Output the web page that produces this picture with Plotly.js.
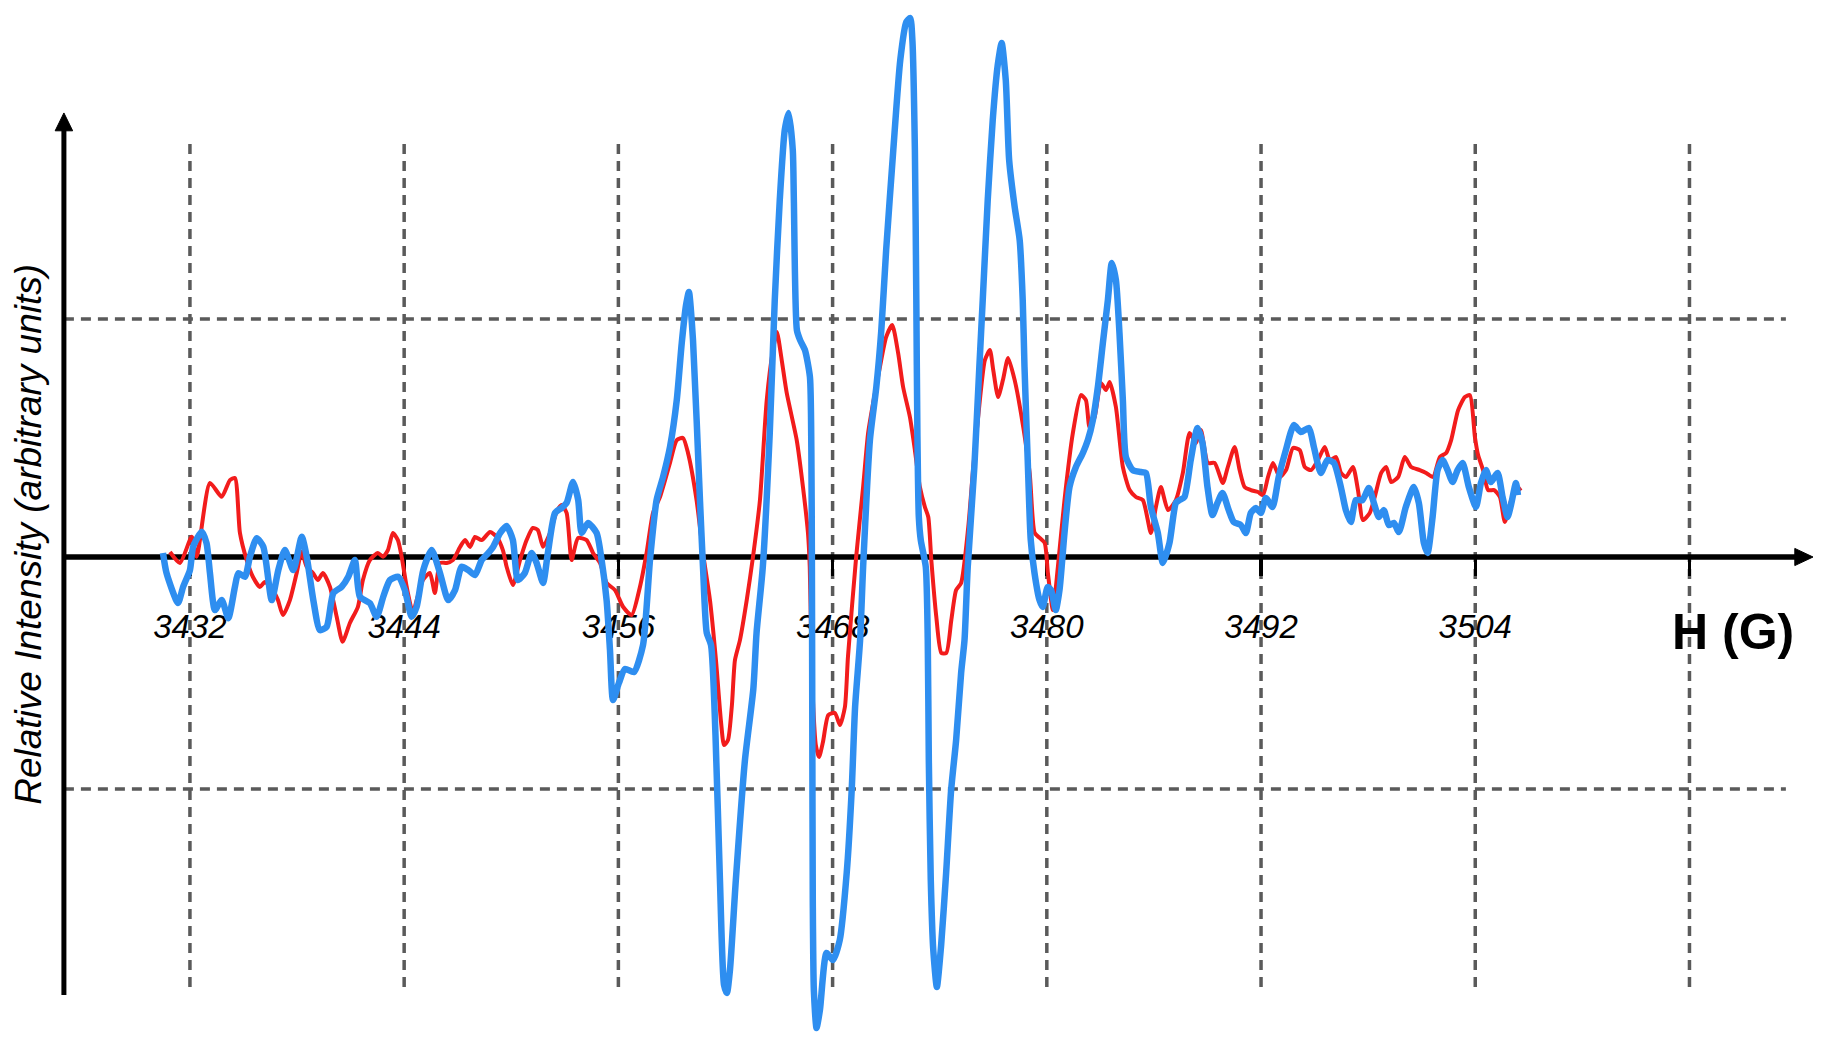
<!DOCTYPE html>
<html>
<head>
<meta charset="utf-8">
<script src="https://cdn.plot.ly/plotly-3.0.1.min.js"></script>
<style>
  html, body { margin: 0; padding: 0; background: #fff; }
  #chart { width: 1833px; height: 1044px; }
</style>
</head>
<body>
<div id="chart"></div>
<script>
// поле H (G) для красного спектра
const redField = [
  3430.88, 3431.44, 3432.10, 3432.38, 3433.12, 3433.78, 3434.24, 3434.52, 3434.80, 3435.18,
  3435.53, 3435.92, 3436.20, 3436.65, 3436.93, 3437.21, 3437.60, 3437.98, 3438.26, 3438.54,
  3438.89, 3439.17, 3439.45, 3439.84, 3440.22, 3440.55, 3440.96, 3441.41, 3441.69, 3442.08,
  3442.53, 3442.81, 3443.09, 3443.37, 3443.65, 3443.86, 3444.14, 3444.49, 3444.70, 3445.05,
  3445.44, 3445.72, 3446.01, 3446.38, 3446.73, 3447.13, 3447.41, 3447.69, 3447.97, 3448.34,
  3448.81, 3449.18, 3449.53, 3449.74, 3450.09, 3450.49, 3450.86, 3451.21, 3451.49, 3451.78,
  3452.17, 3452.54, 3452.82, 3453.10, 3453.38, 3453.74, 3454.22, 3454.58, 3454.97, 3455.34,
  3455.81, 3456.26, 3456.74, 3457.21, 3457.58, 3457.94, 3458.33, 3458.89, 3459.27, 3459.62,
  3459.90, 3460.38, 3460.74, 3461.13, 3461.47, 3461.75, 3461.92, 3462.14, 3462.36, 3462.53,
  3462.81, 3463.19, 3463.54, 3463.93, 3464.31, 3464.66, 3464.88, 3465.15, 3465.43, 3465.99,
  3466.34, 3466.62, 3466.72, 3466.80, 3466.90, 3467.06, 3467.24, 3467.46, 3467.76, 3468.13,
  3468.41, 3468.69, 3468.86, 3469.32, 3469.71, 3469.99, 3470.27, 3470.65, 3471.00, 3471.34,
  3471.67, 3471.95, 3472.33, 3472.61, 3472.89, 3473.17, 3473.36, 3473.53, 3473.81, 3474.09,
  3474.37, 3474.65, 3474.92, 3475.20, 3475.60, 3475.88, 3476.25, 3476.53, 3476.81, 3477.00,
  3477.27, 3477.54, 3477.83, 3478.20, 3478.55, 3479.04, 3479.32, 3479.60, 3479.88, 3480.06,
  3480.34, 3480.62, 3480.99, 3481.46, 3481.91, 3482.19, 3482.39, 3482.68, 3483.03, 3483.31,
  3483.52, 3483.87, 3484.26, 3484.64, 3484.99, 3485.38, 3485.83, 3486.11, 3486.39, 3486.79,
  3487.23, 3487.62, 3488.00, 3488.35, 3488.63, 3489.02, 3489.40, 3489.86, 3490.14, 3490.52,
  3490.80, 3491.08, 3491.43, 3491.83, 3492.11, 3492.39, 3492.67, 3493.04, 3493.40, 3493.79,
  3494.17, 3494.45, 3494.80, 3495.19, 3495.57, 3495.85, 3496.20, 3496.48, 3496.76, 3497.15,
  3497.43, 3497.71, 3498.09, 3498.37, 3498.73, 3499.01, 3499.29, 3499.68, 3500.05, 3500.41,
  3500.89, 3501.25, 3501.64, 3502.02, 3502.37, 3502.65, 3503.04, 3503.42, 3503.70, 3503.98,
  3504.16, 3504.44, 3504.72, 3505.06, 3505.38, 3505.66, 3506.01, 3506.24, 3506.57
];
// интенсивность красного спектра (условные единицы)
const redIntensity = [
  2.1, -2.5, 8.5, 0.1, 31.1, 25.3, 32.3, 33.2, 10.1, -1.3,
  -8.4, -12.6, -10.5, -13.9, -18.1, -24.4, -18.1, -6.7, 2.2, -4.1,
  -6.7, -9.7, -6.7, -12.5, -25.1, -35.6, -27.7, -20.9, -9.7, -1.3,
  1.7, 0.1, 2.9, 10.1, 7.1, 0.1, -12.5, -23.5, -18.1, -9.7,
  -6.7, -15.1, -2.5, -2.5, -1.3, 4.2, 7.1, 4.2, 8.4, 7.1,
  10.5, 8.5, 2.9, -4.1, -11.8, -1.3, 7.1, 12.2, 11.3, 4.3,
  10.1, 19.0, 21.8, 18.5, -1.3, 8.0, 7.1, 1.7, -2.5, -10.9,
  -13.9, -20.9, -24.4, -12.5, 1.7, 18.5, 25.2, 39.5, 49.1, 50.0,
  43.7, 23.9, 1.7, -18.1, -43.7, -69.3, -79.0, -76.9, -62.2, -43.3,
  -34.9, -18.1, 0, 23.9, 65.9, 86.9, 94.5, 82.7, 68.9, 49.1,
  29.4, 10.1, -4.2, -34.9, -60.1, -79.0, -84.0, -77.7, -66.4, -65.5,
  -70.6, -63.0, -42.0, 0, 29.4, 52.1, 64.7, 79.8, 92.4, 97.4,
  85.7, 71.4, 58.8, 44.9, 29.4, 21.0, 16.8, -1.3, -25.2, -40.3,
  -40.3, -26.5, -13.9, -10.9, 12.6, 37.8, 65.9, 82.7, 86.9, 78.5,
  67.2, 74.3, 83.6, 74.3, 60.5, 35.3, 10.1, 8.0, 5.9, -6.7,
  -22.3, -4.2, 23.9, 52.1, 68.0, 65.9, 54.6, 58.8, 73.1, 70.1,
  73.5, 63.0, 37.8, 28.1, 25.2, 23.9, 10.1, 21.0, 29.4, 19.7,
  23.9, 35.3, 52.1, 47.9, 53.3, 39.5, 39.5, 31.1, 37.8, 46.2,
  36.5, 29.4, 28.1, 27.3, 26.0, 33.6, 39.5, 33.6, 36.5, 45.8,
  44.9, 37.8, 36.5, 40.7, 46.2, 40.7, 42.0, 35.3, 33.6, 37.8,
  28.1, 15.5, 18.5, 25.2, 35.3, 37.8, 31.5, 33.6, 42.0, 37.8,
  36.5, 35.3, 33.6, 42.0, 43.7, 49.1, 61.7, 67.2, 68.0, 50.4,
  42.8, 36.5, 28.1, 28.1, 25.2, 14.7, 23.9, 26.9, 29.0
];
// поле H (G) для синего спектра
const blueField = [
  3430.49, 3430.69, 3431.33, 3431.62, 3432.00, 3432.18, 3432.66, 3432.93, 3433.12, 3433.40,
  3433.78, 3434.15, 3434.52, 3434.71, 3435.08, 3435.36, 3435.74, 3436.11, 3436.58, 3436.95,
  3437.32, 3437.79, 3438.26, 3438.54, 3438.91, 3439.28, 3439.66, 3440.03, 3440.50, 3440.87,
  3441.24, 3441.52, 3442.08, 3442.46, 3442.83, 3443.20, 3443.67, 3444.04, 3444.42, 3444.70,
  3445.07, 3445.54, 3446.01, 3446.47, 3446.85, 3447.22, 3447.59, 3447.97, 3448.34, 3448.71,
  3448.99, 3449.37, 3449.74, 3450.09, 3450.37, 3450.76, 3451.14, 3451.42, 3451.78, 3452.05,
  3452.45, 3452.82, 3453.10, 3453.46, 3453.75, 3453.94, 3454.30, 3454.78, 3455.06, 3455.34,
  3455.53, 3455.70, 3456.03, 3456.37, 3456.87, 3457.38, 3457.77, 3458.14, 3458.50, 3458.89,
  3459.27, 3459.55, 3459.79, 3459.95, 3460.18, 3460.57, 3460.74, 3460.95, 3461.19, 3461.44,
  3461.69, 3461.92, 3462.08, 3462.25, 3462.58, 3463.09, 3463.56, 3463.74, 3464.09, 3464.48,
  3464.76, 3465.04, 3465.32, 3465.54, 3465.77, 3465.83, 3466.00, 3466.18, 3466.45, 3466.73,
  3466.81, 3466.84, 3466.86, 3466.89, 3466.95, 3467.10, 3467.29, 3467.66, 3468.01, 3468.40,
  3468.79, 3469.07, 3469.26, 3469.54, 3469.71, 3470.09, 3470.45, 3470.73, 3471.00, 3471.40,
  3471.79, 3472.13, 3472.35, 3472.47, 3472.61, 3472.69, 3472.75, 3472.83, 3472.94, 3473.22,
  3473.33, 3473.39, 3473.50, 3473.64, 3473.84, 3474.08, 3474.36, 3474.64, 3474.92, 3475.20,
  3475.39, 3475.57, 3475.94, 3476.22, 3476.41, 3476.69, 3476.97, 3477.25, 3477.47, 3477.70,
  3477.89, 3478.20, 3478.48, 3478.65, 3478.75, 3478.93, 3479.10, 3479.31, 3479.59, 3479.77,
  3480.05, 3480.24, 3480.50, 3480.71, 3480.99, 3481.27, 3481.63, 3482.02, 3482.30, 3482.58,
  3482.86, 3483.14, 3483.42, 3483.64, 3483.87, 3484.07, 3484.26, 3484.43, 3484.82, 3485.27,
  3485.55, 3485.83, 3486.22, 3486.50, 3486.87, 3487.23, 3487.43, 3487.71, 3488.06, 3488.44,
  3488.72, 3489.00, 3489.28, 3489.56, 3489.84, 3490.19, 3490.47, 3490.87, 3491.15, 3491.43,
  3491.71, 3491.99, 3492.27, 3492.64, 3492.99, 3493.39, 3493.84, 3494.23, 3494.68, 3494.96,
  3495.35, 3495.72, 3496.08, 3496.47, 3496.75, 3497.03, 3497.31, 3497.68, 3498.04, 3498.32,
  3498.60, 3498.88, 3499.16, 3499.44, 3499.72, 3500.11, 3500.56, 3500.84, 3501.12, 3501.33,
  3501.61, 3501.89, 3502.17, 3502.45, 3502.73, 3503.01, 3503.29, 3503.64, 3504.04, 3504.32,
  3504.60, 3504.87, 3505.25, 3505.53, 3505.81, 3506.00, 3506.28, 3506.39
];
// интенсивность синего спектра (условные единицы)
const blueIntensity = [
  1.7, -6.8, -19.3, -12.5, -5.5, 4.3, 10.6, 5.8, -6.7, -22.3,
  -18.1, -25.7, -12.5, -6.8, -8.3, 0.1, 7.9, 4.3, -18.1, -5.5,
  2.9, -5.5, 8.5, 0.1, -18.1, -30.7, -29.3, -15.2, -12.5, -8.3,
  -1.3, -16.7, -19.4, -25.1, -16.7, -9.7, -8.3, -13.9, -25.1, -20.9,
  -5.5, 2.9, -6.8, -18.1, -13.9, -4.1, -5.5, -7.6, -1.3, 1.6,
  4.3, 10.0, 13.0, 7.1, -9.7, -6.7, 1.7, -2.5, -10.9, 1.7,
  18.5, 20.6, 22.7, 31.5, 23.9, 10.1, 14.3, 10.1, -1.3, -18.1,
  -39.1, -60.1, -52.9, -47.0, -48.3, -37.0, -1.3, 23.9, 33.6, 46.2,
  65.9, 89.9, 105.8, 111.3, 91.1, 23.9, -4.2, -31.9, -37.0, -74.8,
  -135.7, -179.8, -183.1, -173.5, -135.7, -85.3, -55.4, -31.9, -4.2, 52.1,
  107.9, 149.9, 179.3, 186.5, 170.9, 149.9, 95.3, 91.1, 86.9, 75.6,
  44.9, -1.3, -60.1, -144.1, -181.9, -197.8, -190.3, -166.3, -169.3, -160.9,
  -132.7, -97.9, -63.0, -34.9, -4.2, 49.1, 71.4, 95.3, 128.9, 170.9,
  208.7, 224.7, 226.4, 217.1, 170.9, 107.9, 52.1, 16.8, 7.1, -4.2,
  -34.9, -85.3, -135.7, -165.1, -180.6, -163.0, -132.7, -97.9, -76.9, -48.7,
  -34.9, -4.2, 37.8, 79.8, 107.9, 149.9, 183.5, 206.6, 215.9, 200.3,
  166.7, 147.0, 133.1, 107.9, 79.8, 40.7, 7.1, -6.7, -18.1, -21.0,
  -12.6, -13.9, -22.3, -13.9, 10.1, 29.4, 37.8, 43.7, 49.1, 57.5,
  71.4, 89.9, 107.9, 123.5, 116.3, 94.1, 65.9, 42.0, 36.5, 35.7,
  35.3, 21.0, 10.1, -2.5, 5.9, 22.7, 23.9, 25.2, 40.7, 54.2,
  47.9, 29.4, 17.6, 22.7, 26.9, 19.7, 14.7, 13.4, 10.1, 18.5,
  20.6, 18.5, 24.8, 21.0, 33.6, 44.9, 55.4, 52.5, 54.2, 46.2,
  35.3, 40.7, 39.5, 29.4, 19.7, 14.7, 23.9, 23.9, 29.0, 22.7,
  16.8, 19.7, 13.4, 14.3, 10.5, 21.0, 29.4, 22.7, 5.9, 1.7,
  16.8, 36.5, 40.7, 36.5, 31.5, 36.5, 39.5, 29.4, 21.0, 31.1,
  36.5, 31.5, 35.3, 25.2, 16.8, 21.8, 31.1, 26.0
];
// деления оси поля и подписи к ним
const fieldTicks = [3432, 3444, 3456, 3468, 3480, 3492, 3504, 3516];
const fieldLabels = ['3432', '3444', '3456', '3468', '3480', '3492', '3504', ''];
// горизонтальные пунктирные уровни
const levelLines = [100, -97.4];

const FONT = 'Liberation Sans, Arial, Helvetica, sans-serif';
const GRID = { color: '#5a5a5a', width: 3.5, dash: '10px,7px' };

//рендерим график
renderChart('chart');

function renderChart(container) {
  const config = getConfigChart();
  Plotly.newPlot(container, config.data, config.layout, { staticPlot: true });
}

function getConfigChart() {
  const xMin = 3421.36; // левый край области
  const xMax = 3524.04;
  const axisX = 3424.94; // положение оси интенсивности
  const arrowTip = 3522.92;

  const data = [
    {
      x: redField,
      y: redIntensity,
      type: 'scatter',
      mode: 'lines',
      line: { color: '#f21c1c', width: 4, shape: 'spline', smoothing: 0.6 },
    },
    {
      x: blueField,
      y: blueIntensity,
      type: 'scatter',
      mode: 'lines',
      line: { color: '#2e8ef0', width: 6.5, shape: 'spline', smoothing: 0.6 },
    },
  ];

  const shapes = [];
  //вертикальная сетка
  fieldTicks.forEach((h) => {
    shapes.push({
      type: 'line', xref: 'x', yref: 'y', layer: 'below',
      x0: h, x1: h, y0: -180.6, y1: 176.4,
      line: GRID,
    });
  });
  //горизонтальные уровни
  levelLines.forEach((v) => {
    shapes.push({
      type: 'line', xref: 'x', yref: 'y', layer: 'below',
      x0: axisX, x1: 3521.4, y0: v, y1: v,
      line: GRID,
    });
  });
  //ось поля со стрелкой
  shapes.push({
    type: 'line', xref: 'x', yref: 'y', layer: 'below',
    x0: axisX, x1: 3522.2, y0: 0, y1: 0,
    line: { color: '#000', width: 5.5 },
  });
  shapes.push({
    type: 'path', xref: 'x', yref: 'y', layer: 'below',
    path: `M ${arrowTip},0 L 3521.9,3.6 L 3521.9,-3.6 Z`,
    fillcolor: '#000', line: { color: '#000', width: 1 },
  });
  //ось интенсивности со стрелкой
  shapes.push({
    type: 'line', xref: 'x', yref: 'y', layer: 'below',
    x0: axisX, x1: axisX, y0: -184, y1: 180,
    line: { color: '#000', width: 5 },
  });
  shapes.push({
    type: 'path', xref: 'x', yref: 'y', layer: 'below',
    path: `M ${axisX},186.5 L ${axisX - 0.49},179 L ${axisX + 0.49},179 Z`,
    fillcolor: '#000', line: { color: '#000', width: 1 },
  });

  const layout = {
    width: 1833,
    height: 1044,
    margin: { l: 0, r: 0, t: 0, b: 0, pad: 0 },
    paper_bgcolor: '#fff',
    plot_bgcolor: '#fff',
    showlegend: false,
    xaxis: {
      range: [xMin, xMax],
      anchor: 'free',
      position: 0.4665,
      showgrid: false,
      zeroline: false,
      showline: false,
      ticks: 'outside',
      ticklen: 18,
      tickwidth: 3.5,
      tickcolor: '#000',
      tickvals: fieldTicks,
      ticktext: fieldLabels,
      ticklabelstandoff: 22,
      tickfont: { family: FONT, size: 33, color: '#000', style: 'italic' },
      layer: 'below traces',
    },
    yaxis: {
      range: [-204.54, 233.94],
      visible: false,
      showgrid: false,
      zeroline: false,
    },
    shapes,
    annotations: [
      {
        xref: 'x', yref: 'y', x: 3518.44, y: -31.5,
        text: '<b>H (G)</b>', showarrow: false,
        xanchor: 'center', yanchor: 'middle',
        font: { family: FONT, size: 50, color: '#000' },
      },
      {
        xref: 'x', yref: 'y', x: 3422.95, y: 9.5,
        text: 'Relative Intensity (arbitrary units)', showarrow: false,
        textangle: -90, xanchor: 'center', yanchor: 'middle',
        font: { family: FONT, size: 37, color: '#000', style: 'italic' },
      },
    ],
  };

  return { data, layout };
}
</script>
</body>
</html>
